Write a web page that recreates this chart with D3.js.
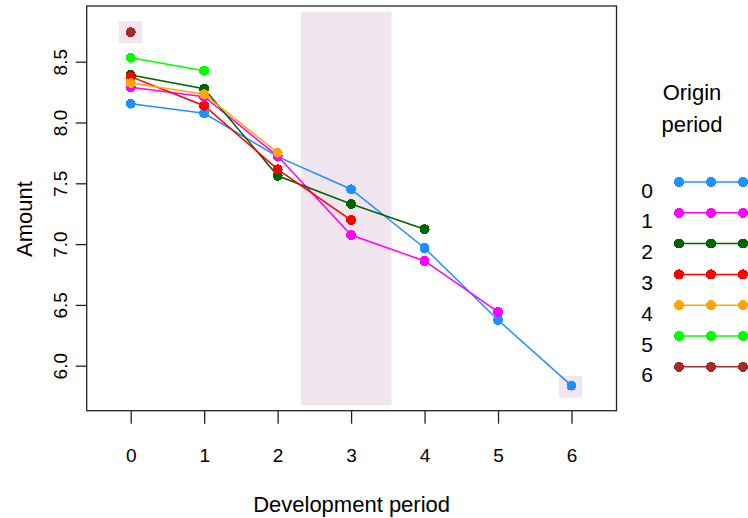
<!DOCTYPE html>
<html>
<head>
<meta charset="utf-8">
<script src="https://cdn.jsdelivr.net/npm/d3@7"></script>
<style>
  html, body { margin: 0; padding: 0; background: #fff; }
  text { font-family: "Liberation Sans", Arial, Helvetica, sans-serif; fill: #000; }
</style>
</head>
<body>
<svg id="chart" width="748" height="518"></svg>
<script>
// ---------- data ----------
const devPeriods = [0, 1, 2, 3, 4, 5, 6];
const originLabels = ["0", "1", "2", "3", "4", "5", "6"];
const seriesColors = ["#1E90FF", "#FF00FF", "#006400", "#FF0000", "#FFA500", "#00FF00", "#A52A2A"];
const origin0 = [8.155, 8.076, 7.719, 7.451, 6.968, 6.376, 5.836];
const origin1 = [8.289, 8.212, 7.724, 7.075, 6.861, 6.442];
const origin2 = [8.391, 8.278, 7.562, 7.330, 7.122];
const origin3 = [8.377, 8.138, 7.615, 7.198];
const origin4 = [8.325, 8.232, 7.752];
const origin5 = [8.533, 8.426];
const origin6 = [8.742];
const seriesValues = [origin0, origin1, origin2, origin3, origin4, origin5, origin6];
const yTicks = [6.0, 6.5, 7.0, 7.5, 8.0, 8.5];
const xTicks = [0, 1, 2, 3, 4, 5, 6];
// highlighted regions in data units: [x0, x1, yTop, yBottom]
const highlights = [
  [-0.16, 0.155, 8.833, 8.652],
  [2.317, 3.55, 8.910, 5.675],
  [5.83, 6.145, 5.915, 5.737]
];

// ---------- layout ----------
const svg = d3.select("#chart");
const box = { left: 86.7, right: 616.5, top: 6, bottom: 410.7 };
const x = d3.scaleLinear().domain([0, 6]).range([130.7, 571.5]);
const y = d3.scaleLinear().domain([6, 8.5]).range([365.7, 61.7]);
const hl = "#F1E5EF";
const FONT = '"Liberation Sans", Arial, sans-serif';

// highlight rectangles
svg.append("g").selectAll("rect").data(highlights).join("rect")
  .attr("x", d => x(d[0]))
  .attr("width", d => x(d[1]) - x(d[0]))
  .attr("y", d => y(d[2]))
  .attr("height", d => y(d[3]) - y(d[2]))
  .attr("fill", hl);

// series
const line = d3.line().x((d, i) => x(devPeriods[i])).y(d => y(d));
seriesValues.forEach((vals, s) => {
  const g = svg.append("g");
  g.append("path").attr("d", line(vals))
    .attr("fill", "none").attr("stroke", seriesColors[s]).attr("stroke-width", 1.5);
  g.selectAll("circle").data(vals).join("circle")
    .attr("cx", (d, i) => x(devPeriods[i])).attr("cy", d => y(d))
    .attr("r", 5).attr("fill", seriesColors[s])
    .attr("shape-rendering", "crispEdges");
});

// plot box
svg.append("rect")
  .attr("x", box.left).attr("y", box.top)
  .attr("width", box.right - box.left).attr("height", box.bottom - box.top)
  .attr("fill", "none").attr("stroke", "#222").attr("stroke-width", 1.3);

// x axis
const xAxis = d3.axisBottom(x).tickValues(xTicks).tickSize(13).tickPadding(0).tickFormat(d3.format("d"));
const gx = svg.append("g").attr("transform", `translate(0,${box.bottom})`).call(xAxis);
gx.select(".domain").remove();
gx.selectAll(".tick line").attr("stroke", "#222").attr("stroke-width", 1.3);
gx.selectAll(".tick text").attr("y", 51.5).attr("dy", null)
  .style("font-size", "19px").style("font-family", FONT).attr("fill", "#111");

// y axis
const yAxis = d3.axisLeft(y).tickValues(yTicks).tickSize(11).tickFormat(d3.format(".1f"));
const gy = svg.append("g").attr("transform", `translate(${box.left},0)`).call(yAxis);
gy.select(".domain").remove();
gy.selectAll(".tick line").attr("stroke", "#222").attr("stroke-width", 1.3);
gy.selectAll(".tick text")
  .attr("x", null).attr("dy", null)
  .attr("transform", "translate(-19.5,0) rotate(-90)")
  .attr("text-anchor", "middle").attr("y", 0)
  .style("font-size", "19px").style("font-family", FONT).attr("fill", "#111");

// axis titles
svg.append("text").attr("x", 351.6).attr("y", 511.5).attr("text-anchor", "middle")
  .style("font-size", "22px").text("Development period");
svg.append("text").attr("transform", "translate(32,219) rotate(-90)").attr("text-anchor", "middle")
  .style("font-size", "22px").text("Amount");

// legend
svg.append("text").attr("x", 692).attr("y", 100).attr("text-anchor", "middle")
  .style("font-size", "22px").text("Origin");
svg.append("text").attr("x", 692).attr("y", 132).attr("text-anchor", "middle")
  .style("font-size", "22px").text("period");
const legY = d3.scaleLinear().domain([0, 6]).range([182, 366.8]);
const leg = svg.append("g").selectAll("g").data(originLabels).join("g")
  .attr("transform", (d, i) => `translate(0,${legY(i)})`);
leg.append("line").attr("x1", 679).attr("x2", 750).attr("y1", 0).attr("y2", 0)
  .attr("stroke", (d, i) => seriesColors[i]).attr("stroke-width", 1.5);
leg.selectAll("circle").data((d, i) => [679, 711, 743].map(cx => ({ cx, c: seriesColors[i] }))).join("circle")
  .attr("cx", d => d.cx).attr("cy", 0).attr("r", 5).attr("fill", d => d.c)
  .attr("shape-rendering", "crispEdges");
leg.append("text").attr("x", 647).attr("y", 15.5).attr("text-anchor", "middle")
  .style("font-size", "21px").text(d => d);
</script>
</body>
</html>
